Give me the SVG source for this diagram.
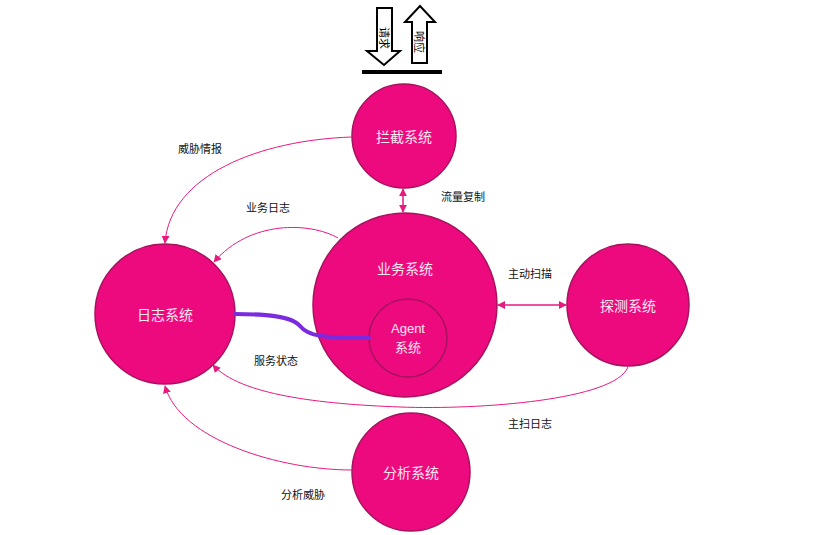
<svg xmlns="http://www.w3.org/2000/svg" width="839" height="535" viewBox="0 0 839 535">
<style>
.node{fill:#EC0A7E;stroke:#A8125E;stroke-width:1.5}
.inner{fill:none;stroke:#A8125E;stroke-width:1.5}
.nt{font-family:"Noto Sans CJK SC","Liberation Sans",sans-serif;font-size:14px;fill:#FFE6F3;text-anchor:middle;dominant-baseline:central}
.ag{font-family:"Noto Sans CJK SC","Liberation Sans",sans-serif;font-size:13px;fill:#FFE6F3;text-anchor:middle}
.lb{font-family:"Noto Sans CJK SC","Liberation Sans",sans-serif;font-size:11px;fill:#111;dominant-baseline:central}
.con{fill:none;stroke:#E8197F;stroke-width:1}
.dbl{fill:none;stroke:#E8197F;stroke-width:1.5}
.big{fill:#fff;stroke:#000;stroke-width:2}
.at{font-family:"Noto Sans CJK SC","Liberation Sans",sans-serif;font-size:11px;fill:#000;text-anchor:middle;dominant-baseline:central}
</style>
<defs>
<marker id="ah" viewBox="0 0 10 10" refX="9" refY="5" markerWidth="8" markerHeight="8" markerUnits="userSpaceOnUse" orient="auto-start-reverse">
<path d="M0,0 L10,5 L0,10 z" fill="#E8197F"/>
</marker>
</defs>
<rect width="839" height="535" fill="#fff"/>

<g id="io">
<path class="big" d="M377,8 L392,8 L392,51 L400,51 L384,65 L367,51 L377,51 z"/>
<path class="big" d="M412,63 L427,63 L427,22 L435,22 L420,6 L405,22 L412,22 z"/>
<rect x="362" y="70" width="80" height="4" fill="#000"/>
<text class="at" transform="translate(385,38) rotate(90)">请求</text>
<text class="at" transform="translate(420,42) rotate(90)">响应</text>
</g>

<g id="lanjie">
<circle class="node" cx="404" cy="136" r="52"/>
<text class="nt" x="404" y="136">拦截系统</text>
</g>
<g id="yewu">
<circle class="node" cx="405" cy="305" r="92"/>
<text class="nt" x="405" y="268">业务系统</text>
</g>
<g id="agent">
<circle class="inner" cx="408" cy="338" r="39"/>
<text class="ag" x="408" y="333" style="font-family:'Liberation Sans',sans-serif">Agent</text>
<text class="ag" x="408" y="352">系统</text>
</g>
<g id="rizhi">
<circle class="node" cx="165" cy="314" r="70"/>
<text class="nt" x="165" y="314">日志系统</text>
</g>
<g id="tance">
<circle class="node" cx="628" cy="305" r="61"/>
<text class="nt" x="628" y="305">探测系统</text>
</g>
<g id="fenxi">
<circle class="node" cx="411" cy="472" r="59"/>
<text class="nt" x="411" y="472">分析系统</text>
</g>

<g id="connectors">
<line class="dbl" x1="403" y1="189" x2="403" y2="212" marker-start="url(#ah)" marker-end="url(#ah)"/>
<line class="dbl" x1="498" y1="305" x2="566" y2="305" marker-start="url(#ah)" marker-end="url(#ah)"/>
<path class="con" d="M352,137 C260,140 170,175 165,243" marker-end="url(#ah)"/>
<path class="con" d="M338,238 C310,222 250,220 214,262" marker-end="url(#ah)"/>
<path class="con" d="M628,367 C615,400 480,410 400,407 C320,404 240,395 213,365" marker-end="url(#ah)"/>
<path class="con" d="M352,470 C280,470 180,440 165,386" marker-end="url(#ah)"/>
<path d="M235,314 C265,314 292,316 300,326 C308,336 322,338 369,338" fill="none" stroke="#7A2BE0" stroke-width="4" stroke-linecap="round"/>
</g>

<g id="labels">
<text class="lb" x="178" y="148">威胁情报</text>
<text class="lb" x="246" y="207">业务日志</text>
<text class="lb" x="441" y="196">流量复制</text>
<text class="lb" x="508" y="273">主动扫描</text>
<text class="lb" x="254" y="360">服务状态</text>
<text class="lb" x="508" y="423">主扫日志</text>
<text class="lb" x="281" y="494">分析威胁</text>
</g>
</svg>
